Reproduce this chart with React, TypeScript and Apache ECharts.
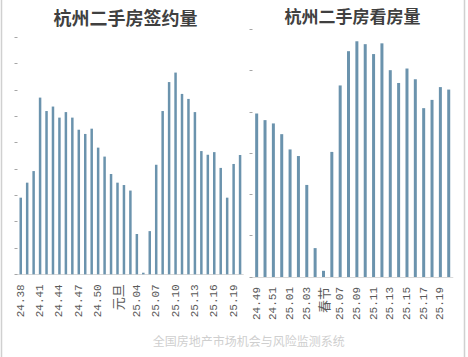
import React, { useEffect, useRef } from "react";
import * as echarts from "echarts";

const leftTitle = "杭州二手房签约量";
const rightTitle = "杭州二手房看房量";
const footnote = "全国房地产市场机会与风险监测系统";

const leftCategories = [
  "24.38", "24.39", "24.40", "24.41", "24.42", "24.43", "24.44", "24.45", "24.46", "24.47",
  "24.48", "24.49", "24.50", "24.51", "24.52", "元旦", "25.02", "25.03", "25.04", "春节",
  "25.06", "25.07", "25.08", "25.09", "25.10", "25.11", "25.12", "25.13", "25.14", "25.15",
  "25.16", "25.17", "25.18", "25.19", "25.20",
];
const leftValues = [
  2.91, 3.48, 3.92, 6.71, 6.2, 6.37, 5.95, 6.16, 5.95, 5.49,
  5.33, 5.53, 4.81, 4.47, 3.81, 3.48, 3.39, 3.18, 1.53, 0.06,
  1.64, 4.16, 6.2, 7.3, 7.66, 6.85, 6.66, 6.16, 4.68, 4.54,
  4.64, 4.04, 2.91, 4.19, 4.53,
];

const rightCategories = [
  "24.49", "24.50", "24.51", "24.52", "25.01", "25.02", "25.03", "25.04", "春节", "25.06",
  "25.07", "25.08", "25.09", "25.10", "25.11", "25.12", "25.13", "25.14", "25.15", "25.16",
  "25.17", "25.18", "25.19", "25.20",
];
const rightValues = [
  3.96, 3.8, 3.72, 3.46, 3.09, 2.93, 2.23, 0.7, 0.15, 3.03,
  4.64, 5.47, 5.71, 5.64, 5.4, 5.66, 5.01, 4.7, 5.05, 4.79,
  4.09, 4.29, 4.6, 4.54,
];

const BAR = "#6b93ad";

const labelFormatter = (v: string) =>
  /[^\x00-\x7f]/.test(v) ? `{cjk|${v}}` : v;

const xLabel = (interval: number) => ({
  interval,
  rotate: 90,
  margin: 10,
  color: "#595959",
  fontFamily: "Liberation Mono",
  fontSize: 11,
  formatter: labelFormatter,
  rich: {
    cjk: { fontFamily: "Noto Sans CJK SC", fontSize: 13, color: "#595959" },
  },
});

export default function App() {
  const ref = useRef<HTMLDivElement>(null);
  useEffect(() => {
    if (!ref.current) return;
    const chart = echarts.init(ref.current, undefined, { renderer: "svg" });
    chart.setOption({
      animation: false,
      backgroundColor: "#ffffff",
      grid: [
        { left: 17.5, top: 37.3, width: 225.8, height: 237 },
        { left: 252.5, top: 29.3, width: 200.4, height: 247.7 },
      ],
      xAxis: [
        {
          type: "category",
          gridIndex: 0,
          data: leftCategories,
          axisLine: { lineStyle: { color: "#d9d9d9" } },
          axisTick: { show: false },
          axisLabel: xLabel(2),
        },
        {
          type: "category",
          gridIndex: 1,
          data: rightCategories,
          axisLine: { lineStyle: { color: "#d9d9d9" } },
          axisTick: { show: false },
          axisLabel: xLabel(1),
        },
      ],
      yAxis: [
        {
          type: "value",
          gridIndex: 0,
          min: 0,
          max: 9,
          interval: 1,
          axisLine: { show: false },
          axisTick: { show: true, length: 3, lineStyle: { color: "#a6a6a6" } },
          axisLabel: { show: false },
          splitLine: { show: false },
        },
        {
          type: "value",
          gridIndex: 1,
          min: 0,
          max: 6,
          interval: 1,
          axisLine: { show: false },
          axisTick: { show: true, length: 3, lineStyle: { color: "#a6a6a6" } },
          axisLabel: { show: false },
          splitLine: { show: false },
        },
      ],
      series: [
        {
          type: "bar",
          xAxisIndex: 0,
          yAxisIndex: 0,
          data: leftValues,
          barWidth: 2.5,
          itemStyle: { color: BAR },
        },
        {
          type: "bar",
          xAxisIndex: 1,
          yAxisIndex: 1,
          data: rightValues,
          barWidth: 3,
          itemStyle: { color: BAR },
        },
      ],
      graphic: [
        {
          type: "line",
          shape: { x1: 1.5, y1: 0, x2: 1.5, y2: 357 },
          style: { stroke: "#d0d0d0", lineWidth: 1.5 },
        },
        {
          type: "line",
          shape: { x1: 464.5, y1: 0, x2: 464.5, y2: 357 },
          style: { stroke: "#d0d0d0", lineWidth: 1.5 },
        },
        {
          type: "text",
          x: 125.5,
          y: 16.7,
          style: {
            text: leftTitle,
            align: "center",
            verticalAlign: "middle",
            fontFamily: "Noto Sans CJK SC",
            fontWeight: "bold",
            fontSize: 18,
            fill: "#404040",
          },
        },
        {
          type: "text",
          x: 352.5,
          y: 15.8,
          style: {
            text: rightTitle,
            align: "center",
            verticalAlign: "middle",
            fontFamily: "Noto Sans CJK SC",
            fontWeight: "bold",
            fontSize: 17,
            fill: "#404040",
          },
        },
        {
          type: "text",
          x: 248.7,
          y: 340,
          style: {
            text: footnote,
            align: "center",
            verticalAlign: "middle",
            fontFamily: "Noto Sans CJK SC",
            fontSize: 12,
            fill: "#cfcfcf",
          },
        },
      ],
    });
    return () => chart.dispose();
  }, []);
  return (
    <div
      ref={ref}
      style={{ position: "fixed", left: 0, top: 0, width: 468, height: 357 }}
    />
  );
}
